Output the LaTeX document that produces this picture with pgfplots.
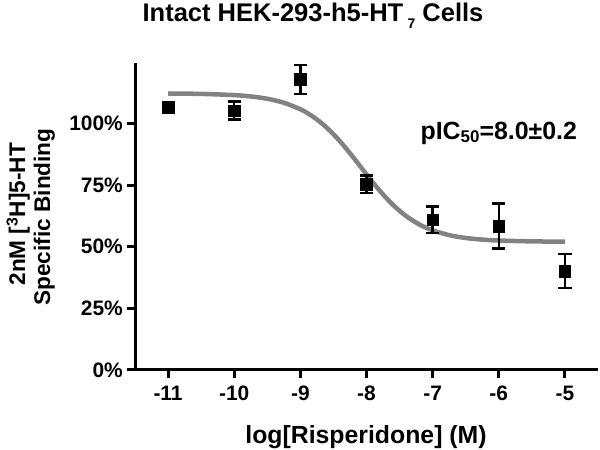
\documentclass[border=0pt]{standalone}
\usepackage{pgfplots}
\pgfplotsset{compat=1.18}
\usepackage{fontspec}
\setmainfont{Liberation Sans}
\definecolor{curvegray}{RGB}{130,130,130}
\newcommand{\sub}[3]{\raisebox{-#2}{\fontsize{#1}{#1}\selectfont #3}}
\begin{document}
\begin{tikzpicture}
\useasboundingbox (0,0) rectangle (600bp,450bp);
\begin{axis}[
  at={(135bp,80bp)}, anchor=south west,
  scale only axis, width=463bp, height=307bp,
  xmin=-11.5, xmax=-4.5, ymin=0, ymax=124.5,
  axis lines=left,
  axis line style={-, line width=3bp, black},
  xtick={-11,-10,-9,-8,-7,-6,-5},
  xticklabels={-11,-10,-9,-8,-7,-6,-5},
  ytick={0,25,50,75,100},
  yticklabels={0\%,25\%,50\%,75\%,100\%},
  tick align=outside, major tick length=8bp,
  tick style={line width=3bp, black},
  ticklabel style={font=\bfseries\fontsize{21}{21}\selectfont},
  xticklabel style={anchor=north, inner sep=0pt, yshift=-8bp},
  yticklabel style={anchor=east, inner sep=0pt, xshift=-4bp},
  clip=false,
]
\addplot[curvegray, line width=4.5bp, smooth] coordinates {
  (-11,112.13) (-10.5,111.97) (-10,111.48) (-9.75,110.94) (-9.5,109.99)
  (-9.25,108.39) (-9,105.74) (-8.875,103.88) (-8.75,101.60) (-8.625,98.84)
  (-8.5,95.62) (-8.375,91.95) (-8.25,87.92) (-8.125,83.66) (-8,79.33)
  (-7.875,75.13) (-7.75,71.19) (-7.625,67.63) (-7.5,64.54) (-7.375,61.92)
  (-7.25,59.76) (-7.125,58.01) (-7,56.63) (-6.75,54.69) (-6.5,53.54)
  (-6.25,52.88) (-6,52.50) (-5.5,52.16) (-5,52.05)
};
\addplot[black, only marks, mark=square*, mark size=5.8bp,
  mark options={line width=0.5bp, fill=black},
  error bars/.cd, y dir=both, y explicit,
  error bar style={line width=2.5bp, black},
  error mark options={rotate=90, mark size=6.7bp, line width=2.5bp, black}]
  coordinates {
  (-10,105.2) +- (0,3.7)
  (-9,117.8) +- (0,5.8)
  (-8,75.3) +- (0,3.5)
  (-7,60.9) +- (0,5.4)
  (-6,58.4) +- (0,9.2)
  (-5,40.1) +- (0,6.9)
};
\addplot[black, only marks, mark=square*, mark size=5.8bp,
  mark options={line width=0.5bp, fill=black}]
  coordinates {(-11,106.5)};
\node[anchor=base, font=\bfseries\fontsize{25}{25}\selectfont]
  at (axis cs:-6.0,93.5) {pIC\sub{17}{3.5bp}{50}=8.0±0.2};
\end{axis}
\node[anchor=base, font=\bfseries\fontsize{25.6}{25.6}\selectfont]
  at (313bp,428bp) {Intact HEK-293-h5-HT\,\sub{14}{6.6bp}{7} Cells};
\node[anchor=base, font=\bfseries\fontsize{24.9}{24.9}\selectfont]
  at (366bp,7bp) {log[Risperidone] (M)};
\node[anchor=base, rotate=90, font=\bfseries\fontsize{22.7}{22.7}\selectfont]
  at (25bp,235.7bp) {2nM [\textsuperscript{3}H]5-HT};
\node[anchor=base, rotate=90, font=\bfseries\fontsize{22.7}{22.7}\selectfont]
  at (50bp,233bp) {Specific Binding};
\end{tikzpicture}
\end{document}
